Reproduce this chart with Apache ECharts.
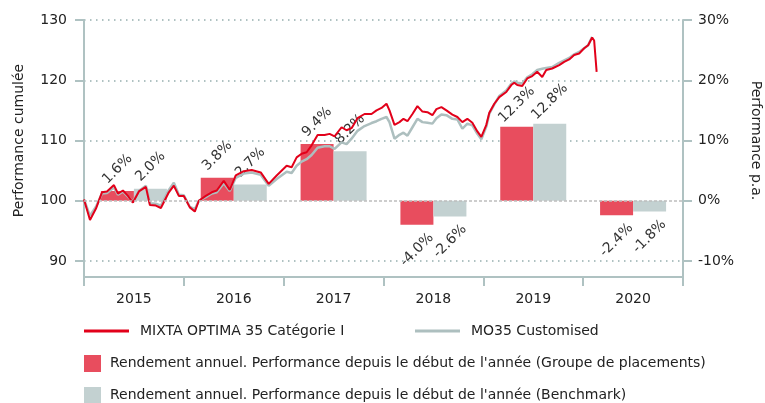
<!DOCTYPE html>
<html>
<head>
<meta charset="utf-8">
<script src="https://cdn.jsdelivr.net/npm/echarts@6/dist/echarts.min.js"></script>
<style>
  html, body { margin: 0; padding: 0; background: #fff; }
  #chart { width: 765px; height: 403px; }
</style>
</head>
<body>
<div id="chart"></div>
<script>
// années (axe des catégories)
var years = ['2015', '2016', '2017', '2018', '2019', '2020'];
// rendement annuel en %
var fundYtd = [1.6, 3.8, 9.4, -4.0, 12.3, -2.4];
var benchYtd = [2.0, 2.7, 8.2, -2.6, 12.8, -1.8];

// performance cumulée (date en année décimale)
var lineDates = [
  2015.00, 2015.06, 2015.12, 2015.18, 2015.23, 2015.30, 2015.34, 2015.39, 2015.44, 2015.49,
  2015.55, 2015.62, 2015.66, 2015.72, 2015.77, 2015.85, 2015.90, 2015.95, 2016.00, 2016.06,
  2016.11, 2016.15, 2016.22, 2016.28, 2016.33, 2016.40, 2016.46, 2016.52, 2016.60, 2016.68,
  2016.77, 2016.85, 2016.93, 2017.03, 2017.08, 2017.13, 2017.18, 2017.23, 2017.28, 2017.34,
  2017.41, 2017.46, 2017.51, 2017.58, 2017.63, 2017.68, 2017.74, 2017.81, 2017.88, 2017.93,
  2017.98, 2018.03, 2018.06, 2018.11, 2018.16, 2018.20, 2018.24, 2018.29, 2018.34, 2018.39,
  2018.44, 2018.49, 2018.53, 2018.58, 2018.63, 2018.69, 2018.74, 2018.79, 2018.84, 2018.89,
  2018.94, 2018.98, 2019.03, 2019.06, 2019.11, 2019.16, 2019.23, 2019.28, 2019.31, 2019.34,
  2019.39, 2019.44, 2019.49, 2019.54, 2019.59, 2019.63, 2019.69, 2019.76, 2019.81, 2019.86,
  2019.91, 2019.96, 2020.01, 2020.05, 2020.09, 2020.11, 2020.135
];
var fundPerf = [
  100.2, 96.8, 98.7, 101.4, 101.55, 102.6, 101.2, 101.7, 100.8, 99.7,
  101.55, 102.3, 99.3, 99.2, 98.8, 101.4, 102.5, 100.8, 100.8, 98.9,
  98.2, 100.0, 100.8, 101.4, 101.7, 103.3, 101.8, 104.2, 104.9, 105.1,
  104.7, 102.8, 104.2, 105.8, 105.55, 107.2, 107.8, 108.05, 109.2, 110.9,
  110.9, 111.1, 110.7, 112.2, 111.7, 112.05, 113.7, 114.4, 114.4, 115.0,
  115.4, 116.1, 115.0, 112.6, 113.05, 113.6, 113.2, 114.4, 115.7, 114.8,
  114.7, 114.2, 115.2, 115.55, 115.0, 114.3, 113.9, 113.05, 113.6, 112.95,
  111.5, 110.6, 112.6, 114.6, 116.1, 117.2, 118.05, 119.2, 119.6, 119.2,
  119.05, 120.3, 120.7, 121.4, 120.55, 121.7, 121.95, 122.5, 123.05, 123.45,
  124.2, 124.45, 125.3, 125.8, 127.1, 126.6, 121.4
];
var benchPerf = [
  100.2, 97.5, 99.0, 101.2, 101.3, 102.2, 101.0, 101.5, 100.7, 99.8,
  101.6, 102.5, 99.6, 99.5, 99.2, 101.8, 103.0, 101.0, 100.9, 99.0,
  98.6, 100.0, 100.6, 101.2, 101.4, 102.9, 101.6, 103.8, 104.5, 104.7,
  104.3, 102.5, 103.6, 104.8, 104.6, 105.8, 106.5, 106.9, 107.6, 108.8,
  109.05, 109.05, 108.6, 109.7, 109.4, 110.3, 111.6, 112.4, 112.9, 113.2,
  113.6, 113.9, 113.05, 110.3, 110.95, 111.3, 110.8, 112.2, 113.6, 113.05,
  112.95, 112.8, 113.7, 114.3, 114.2, 113.6, 113.5, 111.95, 112.8, 112.5,
  111.1, 110.2, 112.3, 114.45, 116.0, 117.4, 118.3, 119.4, 119.8, 119.6,
  119.45, 120.5, 121.0, 121.7, 121.9, 122.05, 122.2, 122.9, 123.3, 123.7,
  124.3, 124.7, 125.3, 125.8, 127.2, null, null
];

var axisColor = '#afc2c2';
var textColor = '#222';
var redLine = '#e2001a';
var greyLine = '#adbfbf';
var redBar = '#e84d5e';
var greyBar = '#c3d1d1';

var fundName = 'MIXTA OPTIMA 35 Catégorie I';
var benchName = 'MO35 Customised';
var fundBarName = "Rendement annuel. Performance depuis le début de l'année (Groupe de placements)";
var benchBarName = "Rendement annuel. Performance depuis le début de l'année (Benchmark)";

function pairs(xs, ys) {
  var out = [];
  for (var i = 0; i < xs.length; i++) {
    if (ys[i] != null) out.push([xs[i], ys[i]]);
  }
  return out;
}

// étiquettes inclinées, centrées au-dessus (ou au-dessous) de la barre
function barData(vals) {
  return vals.map(function (v) {
    if (v < 0) {
      return { value: v, label: { position: 'bottom', distance: 25 } };
    }
    return v;
  });
}

var barLabel = {
  show: true,
  position: 'top',
  rotate: 45,
  align: 'center',
  verticalAlign: 'middle',
  distance: 22,
  fontSize: 14,
  color: '#333',
  formatter: function (p) { return p.value.toFixed(1) + '%'; }
};

function legendItem(name, left, top, w, h, gap) {
  return {
    left: left, top: top, padding: 0, itemWidth: w, itemHeight: h,
    textStyle: { fontSize: 14, color: textColor, padding: [0, 0, 0, gap] },
    data: [{ name: name, icon: 'rect' }]
  };
}

var chart = echarts.init(document.getElementById('chart'));

var option = {
  animation: false,
  textStyle: { fontFamily: 'DejaVu Sans' },
  grid: [
    // cadre (axe des années)
    { left: 84, right: 82, top: 20, bottom: 126, outerBoundsMode: 'none' },
    // zone des séries
    { left: 84, right: 82, top: 20, bottom: 142, outerBoundsMode: 'none' }
  ],
  legend: [
    legendItem(fundName, 84, 324, 45, 3, 6),
    legendItem(benchName, 415, 324, 45, 3, 6),
    legendItem(fundBarName, 84, 355, 17, 17, 4),
    legendItem(benchBarName, 84, 387, 17, 17, 4)
  ],
  xAxis: [
    {
      type: 'category', gridIndex: 0, data: years,
      axisLine: { lineStyle: { color: axisColor, width: 2 } },
      axisTick: { show: true, length: 9, interval: 0, lineStyle: { color: axisColor, width: 2 } },
      axisLabel: { fontSize: 14, color: textColor, margin: 15 }
    },
    {
      type: 'category', gridIndex: 1, data: years, show: false
    },
    {
      type: 'value', gridIndex: 1, min: 2015, max: 2021, show: false
    }
  ],
  yAxis: [
    // lignes du cadre
    {
      type: 'value', gridIndex: 0, position: 'left',
      axisLine: { show: true, lineStyle: { color: axisColor, width: 2 } },
      axisTick: { show: false }, axisLabel: { show: false }, splitLine: { show: false }
    },
    {
      type: 'value', gridIndex: 0, position: 'right',
      axisLine: { show: true, lineStyle: { color: axisColor, width: 2 } },
      axisTick: { show: false }, axisLabel: { show: false }, splitLine: { show: false }
    },
    {
      type: 'value', gridIndex: 1, position: 'left', min: 90, max: 130, interval: 10,
      name: 'Performance cumulée', nameLocation: 'middle', nameGap: 58, nameRotate: 90,
      nameTextStyle: { fontSize: 14, color: textColor },
      axisLine: { show: false },
      axisTick: { show: true, length: 9, lineStyle: { color: axisColor, width: 2 } },
      axisLabel: { fontSize: 14, color: textColor, margin: 17 },
      splitLine: {
        show: true,
        lineStyle: {
          color: [axisColor, 'rgba(0,0,0,0)', axisColor, axisColor, axisColor],
          width: 2, type: [1.5, 4.5]
        }
      }
    },
    {
      type: 'value', gridIndex: 1, position: 'right', min: -10, max: 30, interval: 10,
      name: 'Performance p.a.', nameLocation: 'middle', nameGap: 66, nameRotate: -90,
      nameTextStyle: { fontSize: 14, color: textColor },
      axisLine: { show: false },
      axisTick: { show: true, length: 9, lineStyle: { color: axisColor, width: 2 } },
      axisLabel: { fontSize: 14, color: textColor, margin: 15, formatter: '{value}%' },
      splitLine: { show: false }
    }
  ],
  series: [
    {
      name: fundBarName,
      type: 'bar', xAxisIndex: 1, yAxisIndex: 3,
      barWidth: 33, barGap: '0%',
      itemStyle: { color: redBar },
      label: barLabel,
      data: barData(fundYtd),
      markLine: {
        silent: true, symbol: 'none', label: { show: false },
        lineStyle: { color: '#bdbdbd', type: [3, 2], width: 1.5 },
        data: [{ yAxis: 0 }]
      },
      z: 2
    },
    {
      name: benchBarName,
      type: 'bar', xAxisIndex: 1, yAxisIndex: 3,
      barWidth: 33, barGap: '0%',
      itemStyle: { color: greyBar },
      label: barLabel,
      data: barData(benchYtd),
      z: 2
    },
    {
      name: benchName,
      type: 'line', xAxisIndex: 2, yAxisIndex: 2,
      showSymbol: false, symbol: 'none',
      lineStyle: { color: greyLine, width: 2.5 },
      itemStyle: { color: greyLine },
      data: pairs(lineDates, benchPerf),
      z: 3
    },
    {
      name: fundName,
      type: 'line', xAxisIndex: 2, yAxisIndex: 2,
      showSymbol: false, symbol: 'none',
      lineStyle: { color: redLine, width: 2 },
      itemStyle: { color: redLine },
      data: pairs(lineDates, fundPerf),
      z: 4
    }
  ]
};

chart.setOption(option);
</script>
</body>
</html>
